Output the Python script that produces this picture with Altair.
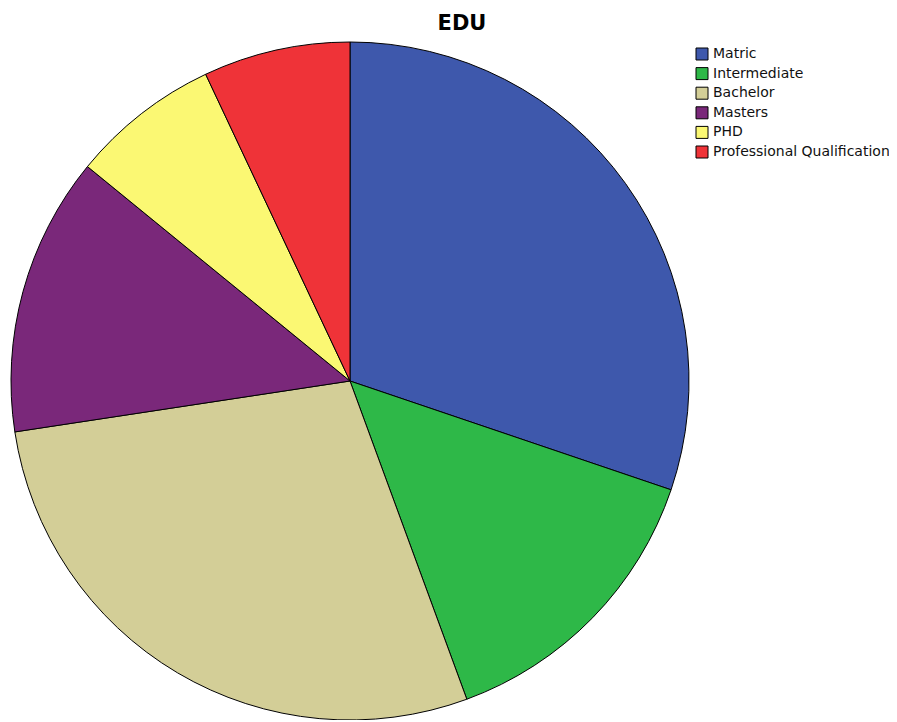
import altair as alt
import pandas as pd

categories = ["Matric", "Intermediate", "Bachelor", "Masters", "PHD", "Professional Qualification"]
values = [30.2, 14.2, 28.2, 13.3, 7.1, 7.0]
colors = ["#3E58AC", "#2EB848", "#D3CE97", "#7A287A", "#FBF873", "#EF3338"]

df = pd.DataFrame({"EDU": categories, "value": values, "idx": list(range(len(categories)))})

pie = alt.Chart(df).mark_arc(stroke="black", strokeWidth=1, radius=339).encode(
    theta=alt.Theta("value:Q", stack=True),
    order=alt.Order("idx:Q"),
    color=alt.Color(
        "EDU:N",
        scale=alt.Scale(domain=categories, range=colors),
        sort=categories,
        legend=alt.Legend(
            title=None,
            orient="none",
            legendX=687,
            legendY=39,
            symbolType="square",
            symbolSize=144,
            symbolStrokeColor="black",
            symbolStrokeWidth=1,
            labelFont="DejaVu Sans",
            labelFontSize=14,
            labelColor="#111111",
            labelLimit=400,
            rowPadding=3.6,
            padding=0,
            labelOffset=4,
        ),
    ),
    x=alt.value(342),
    y=alt.value(373),
)

title_df = pd.DataFrame({"t": ["EDU"]})
title = alt.Chart(title_df).mark_text(
    font="DejaVu Sans", fontSize=21, fontWeight=600, color="black", align="center", baseline="alphabetic"
).encode(text="t:N", x=alt.value(454), y=alt.value(22))

chart = alt.layer(pie, title).properties(
    width=881, height=712, autosize=alt.AutoSizeParams(type="none"), padding=0
).configure_view(stroke=None)

chart.save("out.html", embed_options={"renderer": "svg", "actions": False})
